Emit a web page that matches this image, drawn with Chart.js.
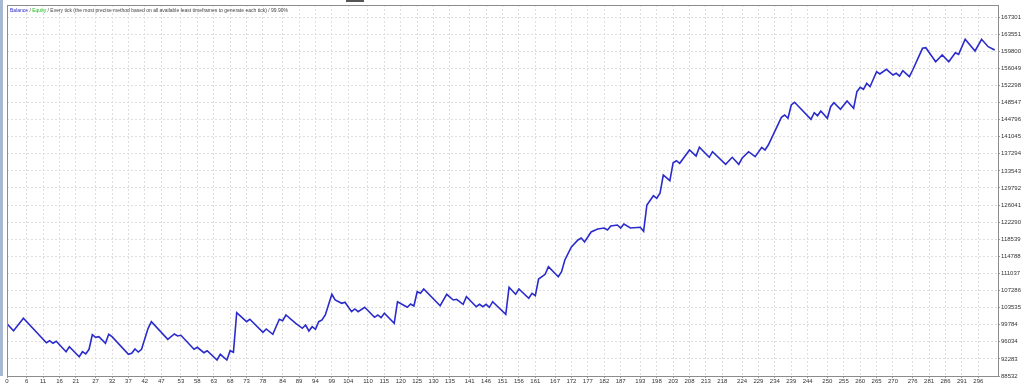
<!DOCTYPE html>
<html>
<head>
<meta charset="utf-8">
<title>Balance / Equity</title>
<script src="https://cdn.jsdelivr.net/npm/chart.js@4.4.1/dist/chart.umd.min.js"></script>
<style>
  html, body { margin: 0; padding: 0; background: #fff; }
  #wrap { position: relative; width: 1024px; height: 386px; overflow: hidden; }
  #strip { position: absolute; left: 0; top: 0; width: 3px; height: 376px; background: #a6b8d2; }
  #tab { position: absolute; left: 346px; top: 0; width: 18px; height: 2px; background: #555; }
  canvas { display: block; }
</style>
</head>
<body>
<div id="wrap">
  <canvas id="chart" width="1024" height="386"></canvas>
  <div id="strip"></div>
  <div id="tab"></div>
</div>
<script>
// trade number -> balance
const trades = [
  0, 2, 5, 12, 13, 14, 15, 18, 19, 22, 23, 24, 25, 26, 27, 28, 30, 31, 32, 37,
  38, 39, 40, 41, 43, 44, 49, 51, 52, 53, 57, 58, 60, 61, 64, 65, 67, 68, 69, 70,
  73, 74, 78, 79, 81, 83, 84, 85, 88, 90, 91, 92, 93, 94, 95, 96, 97, 99, 100, 102,
  103, 105, 106, 107, 109, 112, 113, 114, 115, 118, 119, 122, 123, 124, 125, 126, 127, 132, 134, 136,
  137, 139, 140, 141, 143, 144, 145, 146, 147, 148, 152, 153, 155, 156, 159, 160, 161, 162, 164, 165,
  168, 169, 170, 172, 174, 175, 176, 178, 180, 182, 183, 184, 186, 187, 188, 190, 193, 194, 195, 197,
  198, 199, 200, 202, 203, 204, 205, 208, 210, 211, 214, 215, 219, 221, 223, 224, 226, 228, 230, 231,
  232, 236, 237, 238, 239, 240, 245, 246, 247, 248, 250, 251, 252, 254, 256, 258, 259, 260, 261, 262,
  263, 265, 266, 268, 270, 271, 272, 273, 275, 276, 279, 280, 283, 285, 287, 289, 290, 292, 295, 297,
  299, 301
];
const balance = [
  100000, 98472, 101193, 95839, 96278, 95707, 96146, 93864, 94961, 92767, 93864, 93359, 94391, 97594, 97024, 97155, 95707, 97682, 97155, 93293,
  93513, 94456, 93798, 94391, 98998, 100446, 96585, 97748, 97309, 97462, 94391, 94829, 93645, 94083, 92043, 93293, 92043, 94083, 93732, 102421,
  100446, 100973, 98121, 98845, 97682, 100973, 100666, 101917, 100096, 98998, 99722, 98406, 99349, 98779, 100446, 100820, 101917, 106458, 105208, 104484,
  104703, 102641, 103233, 102641, 103606, 101412, 101917, 101324, 102290, 100096, 104835, 103606, 104330, 103891, 107029, 106678, 107622, 103957, 106458, 105208,
  105362, 104265, 105932, 105208, 103738, 104265, 103738, 104265, 103606, 104835, 102070, 107995, 106458, 107622, 105581, 106678, 106152, 109816, 110847, 112515,
  110320, 111417, 113985, 116837, 118373, 118812, 117934, 120128, 120787, 121006, 120567, 121445, 121664, 121006, 121884, 121006, 121160, 120282, 126053, 128093,
  127523, 128620, 132635, 131385, 135334, 135773, 135203, 138121, 136804, 138713, 136519, 137748, 134983, 136519, 134983, 136300, 137748, 136651, 138713, 138121,
  139218, 145296, 145801, 145077, 147995, 148587, 144857, 146306, 145647, 146678, 145077, 147622, 148500, 147051, 148873, 147271, 150913, 151879, 151440, 152756,
  152010, 155302, 154797, 155828, 154577, 154950, 154358, 155521, 154204, 155675, 160436, 160568, 157496, 158966, 157496, 159471, 159120, 162411, 159844, 162411,
  160787, 160063
];

const xTicks = [
  0, 6, 11, 16, 21, 27, 32, 37, 42, 47, 53, 58, 63, 68, 73, 78, 84, 89, 94, 99,
  104, 110, 115, 120, 125, 130, 135, 141, 146, 151, 156, 161, 167, 172, 177, 182, 187, 193, 198, 203,
  208, 213, 218, 224, 229, 234, 239, 244, 250, 255, 260, 265, 270, 276, 281, 286, 291, 296
];
const yTicks = [
  88532, 92283, 96034, 99784, 103535, 107286, 111037, 114788, 118539, 122290, 126041,
  129792, 133543, 137294, 141045, 144796, 148547, 152298, 156049, 159800, 163551, 167301
];

const legendParts = [
  ['Balance', '#2b2bcc'],
  [' / ', '#444'],
  ['Equity', '#1fb81f'],
  [' / Every tick (the most precise method based on all available least timeframes to generate each tick) / 99.90%', '#444']
];

const points = trades.map((t, i) => ({ x: t, y: balance[i] }));

// frame round the plot and the caption in the top left corner
const framePlugin = {
  id: 'frame',
  afterDraw(chart) {
    const { ctx, chartArea: a } = chart;
    ctx.save();
    ctx.strokeStyle = '#8c8c8c';
    ctx.lineWidth = 1;
    ctx.strokeRect(a.left + 0.5, a.top + 0.5, a.right - a.left, a.bottom - a.top);
    ctx.font = '5px "Liberation Sans", Arial, sans-serif';
    ctx.textBaseline = 'middle';
    let x = a.left + 3;
    legendParts.forEach(([txt, col]) => {
      ctx.fillStyle = col;
      ctx.fillText(txt, x, a.top + 6);
      x += ctx.measureText(txt).width;
    });
    ctx.restore();
  }
};

const tickFont = { family: '"Liberation Sans", Arial, sans-serif', size: 6 };

new Chart(document.getElementById('chart'), {
  type: 'line',
  data: {
    datasets: [{
      label: 'Balance',
      data: points,
      borderColor: '#2b2bcc',
      borderWidth: 1.6,
      pointRadius: 0,
      tension: 0,
      fill: false
    }]
  },
  options: {
    responsive: false,
    animation: false,
    layout: { padding: { left: 7, top: 5, right: 0, bottom: 0 } },
    plugins: { legend: { display: false }, tooltip: { enabled: false } },
    scales: {
      x: {
        type: 'linear',
        min: 0,
        max: 302,
        afterBuildTicks: (scale) => { scale.ticks = xTicks.map(v => ({ value: v })); },
        afterFit: (scale) => { scale.height = 10; },
        ticks: {
          autoSkip: false,
          maxRotation: 0,
          padding: 0,
          color: '#333',
          font: tickFont,
          callback: (v) => String(v)
        },
        grid: { color: '#dedede', tickLength: 2, tickColor: '#999' },
        border: { display: false, dash: [2, 2] }
      },
      y: {
        position: 'right',
        min: 88532,
        max: 169937,
        afterBuildTicks: (scale) => { scale.ticks = yTicks.map(v => ({ value: v })); },
        afterFit: (scale) => { scale.width = 26; },
        ticks: {
          padding: 1,
          color: '#333',
          font: tickFont,
          callback: (v) => String(v)
        },
        grid: { color: '#dedede', tickLength: 2, tickColor: '#999' },
        border: { display: false, dash: [2, 2] }
      }
    }
  },
  plugins: [framePlugin]
});
</script>
</body>
</html>
